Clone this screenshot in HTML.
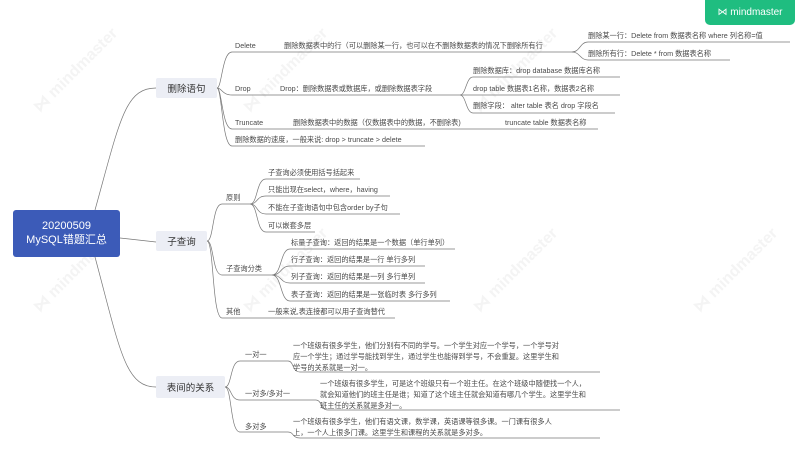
<!DOCTYPE html>
<html><head><meta charset="utf-8"><style>
body{margin:0;width:800px;height:450px;background:#fff;position:relative;overflow:hidden;font-family:"Liberation Sans","Noto Sans CJK SC",sans-serif;}
.t{position:absolute;font-size:7.2px;color:#4a4a4a;white-space:nowrap;line-height:9px;}
.b{position:absolute;background:#eceef5;color:#333;font-size:9.5px;display:flex;align-items:center;justify-content:center;border-radius:2px;}
.wm{position:absolute;font-size:16px;color:#f4f4f4;transform:rotate(-45deg);font-weight:bold;white-space:nowrap;}
</style></head><body>
<div class="wm" style="left:20px;top:60px">⋈ mindmaster</div>
<div class="wm" style="left:230px;top:60px">⋈ mindmaster</div>
<div class="wm" style="left:460px;top:60px">⋈ mindmaster</div>
<div class="wm" style="left:20px;top:260px">⋈ mindmaster</div>
<div class="wm" style="left:230px;top:260px">⋈ mindmaster</div>
<div class="wm" style="left:460px;top:260px">⋈ mindmaster</div>
<div class="wm" style="left:680px;top:260px">⋈ mindmaster</div>
<svg width="800" height="450" style="position:absolute;left:0;top:0" fill="none" stroke="#777" stroke-width="0.7">
<path d="M95 210 C120 120,125 88,156 88"/>
<path d="M120 238 L156 242"/>
<path d="M95 257 C120 350,125 387,156 387"/>
<path d="M217 88 C222 88,222 52,232 52 L572 52"/>
<path d="M217 88 C222 88,222 95,232 95 L460 95"/>
<path d="M217 88 C222 88,222 129,232 129 L598 129"/>
<path d="M217 88 C222 88,222 146,232 146 L425 146"/>
<path d="M572 52 C580 52,580 42,588 42 L790 42"/>
<path d="M572 52 C580 52,580 60,588 60 L730 60"/>
<path d="M460 95 C466 95,466 77,473 77 L620 77"/>
<path d="M460 95 L620 95"/>
<path d="M460 95 C466 95,466 113,473 113 L615 113"/>
<path d="M207 241 C214 241,212 204,222 204 L250 204"/>
<path d="M207 241 C214 241,212 275,222 275 L272 275"/>
<path d="M207 241 C214 241,212 318,222 318 L395 318"/>
<path d="M250 204 C258 204,256 179,266 179 L360 179"/>
<path d="M250 204 C258 204,256 196,266 196 L390 196"/>
<path d="M250 204 C258 204,256 214,266 214 L400 214"/>
<path d="M250 204 C258 204,256 232,266 232 L315 232"/>
<path d="M272 275 C282 275,280 249,290 249 L455 249"/>
<path d="M272 275 C282 275,280 266,290 266 L425 266"/>
<path d="M272 275 C282 275,280 283,290 283 L425 283"/>
<path d="M272 275 C282 275,280 301,290 301 L450 301"/>
<path d="M225 387 C232 387,230 361,240 361 L288 361 C294 361,292 372,300 372 L600 372"/>
<path d="M225 387 C232 387,230 400,240 400 L316 400 C322 400,320 410,328 410 L620 410"/>
<path d="M225 387 C232 387,230 432,240 432 L288 432 C294 432,292 438,300 438 L600 438"/>
</svg>
<div style="position:absolute;left:13px;top:210px;width:107px;height:47px;background:#3c5bb8;border-radius:3px;color:#fff;font-size:11px;line-height:14px;text-align:center;padding-top:9px;box-sizing:border-box">20200509<br>MySQL错题汇总</div>
<div class="b" style="left:156px;top:78px;width:61px;height:20px">删除语句</div>
<div class="b" style="left:156px;top:231px;width:51px;height:20px">子查询</div>
<div class="b" style="left:156px;top:376px;width:69px;height:22px">表间的关系</div>

<div class="t" style="left:235px;top:41px">Delete</div>
<div class="t" style="left:284px;top:41px">删除数据表中的行（可以删除某一行，也可以在不删除数据表的情况下删除所有行</div>
<div class="t" style="left:588px;top:31px">删除某一行：Delete from 数据表名称 where 列名称=值</div>
<div class="t" style="left:588px;top:49px">删除所有行：Delete * from 数据表名称</div>
<div class="t" style="left:235px;top:84px">Drop</div>
<div class="t" style="left:280px;top:84px">Drop：删除数据表或数据库，或删除数据表字段</div>
<div class="t" style="left:473px;top:66px">删除数据库：drop database 数据库名称</div>
<div class="t" style="left:473px;top:84px">drop table 数据表1名称，数据表2名称</div>
<div class="t" style="left:473px;top:101px">删除字段： alter table 表名 drop 字段名</div>
<div class="t" style="left:235px;top:118px">Truncate</div>
<div class="t" style="left:293px;top:118px">删除数据表中的数据（仅数据表中的数据，不删除表)</div>
<div class="t" style="left:505px;top:118px">truncate table 数据表名称</div>
<div class="t" style="left:235px;top:135px">删除数据的速度，一般来说: drop &gt; truncate &gt; delete</div>

<div class="t" style="left:226px;top:193px">原则</div>
<div class="t" style="left:268px;top:168px">子查询必须使用括号括起来</div>
<div class="t" style="left:268px;top:185px">只能出现在select，where，having</div>
<div class="t" style="left:268px;top:203px">不能在子查询语句中包含order by子句</div>
<div class="t" style="left:268px;top:221px">可以嵌套多层</div>
<div class="t" style="left:226px;top:264px">子查询分类</div>
<div class="t" style="left:291px;top:238px">标量子查询：返回的结果是一个数据（单行单列）</div>
<div class="t" style="left:291px;top:255px">行子查询：返回的结果是一行 单行多列</div>
<div class="t" style="left:291px;top:272px">列子查询：返回的结果是一列 多行单列</div>
<div class="t" style="left:291px;top:290px">表子查询：返回的结果是一张临时表 多行多列</div>
<div class="t" style="left:226px;top:307px">其他</div>
<div class="t" style="left:268px;top:307px">一般来说,表连接都可以用子查询替代</div>

<div class="t" style="left:245px;top:350px">一对一</div>
<div class="t" style="left:293px;top:340px;line-height:11px">一个班级有很多学生，他们分别有不同的学号。一个学生对应一个学号，一个学号对<br>应一个学生；通过学号能找到学生，通过学生也能得到学号，不会重复。这里学生和<br>学号的关系就是一对一。</div>
<div class="t" style="left:245px;top:389px">一对多/多对一</div>
<div class="t" style="left:320px;top:378px;line-height:11px">一个班级有很多学生，可是这个班级只有一个班主任。在这个班级中随便找一个人，<br>就会知道他们的班主任是谁；知道了这个班主任就会知道有哪几个学生。这里学生和<br>班主任的关系就是多对一。</div>
<div class="t" style="left:245px;top:422px">多对多</div>
<div class="t" style="left:293px;top:416px;line-height:11px">一个班级有很多学生，他们有语文课，数学课，英语课等很多课。一门课有很多人<br>上，一个人上很多门课。这里学生和课程的关系就是多对多。</div>

<div style="position:absolute;left:705px;top:0;width:90px;height:25px;background:#1fbd80;border-radius:0 0 5px 5px;color:#fff;font-size:10px;line-height:25px;text-align:center">⋈ mindmaster</div>
</body></html>
